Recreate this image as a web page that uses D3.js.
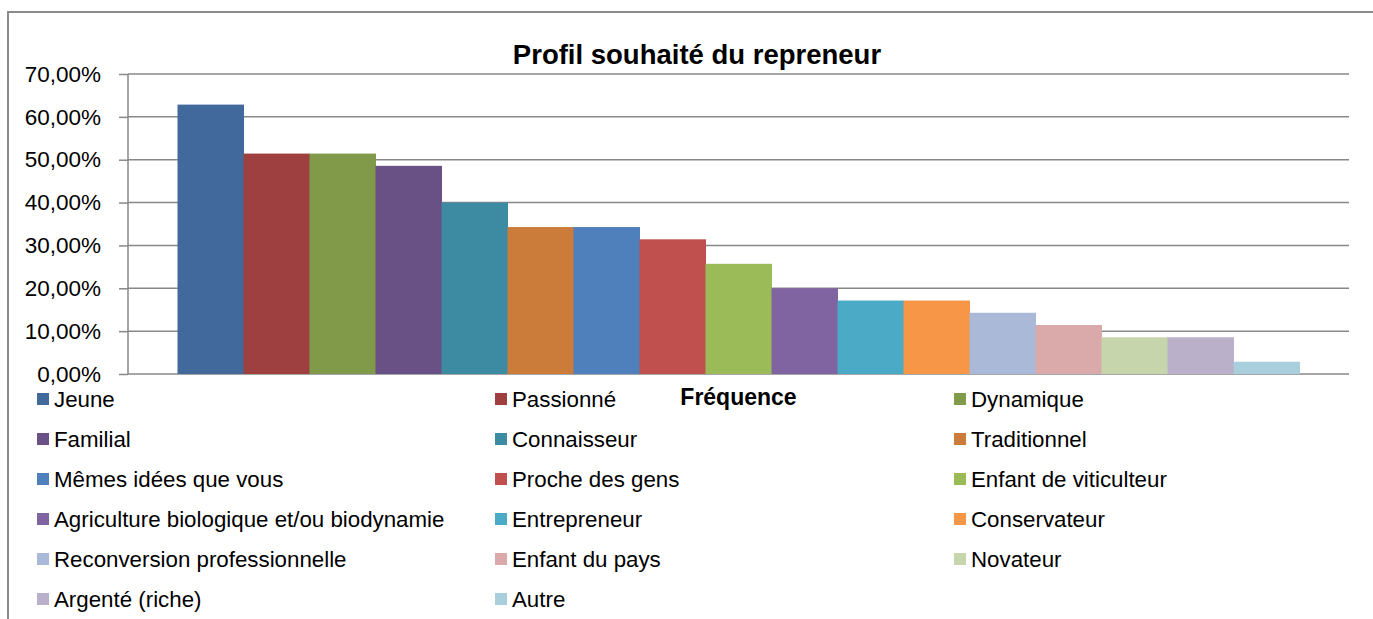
<!DOCTYPE html>
<html>
<head>
<meta charset="utf-8">
<script src="https://cdn.jsdelivr.net/npm/d3@7"></script>
<style>
  body { margin: 0; background: #fff; }
  svg text { font-family: "Liberation Sans", Arial, sans-serif; fill: #000; }
</style>
</head>
<body>
<div id="chart"></div>
<script>
// profile categories, in legend / bar order
const profils = [
    "Jeune", "Passionné", "Dynamique",
    "Familial", "Connaisseur", "Traditionnel",
    "Mêmes idées que vous", "Proche des gens", "Enfant de viticulteur",
    "Agriculture biologique et/ou biodynamie", "Entrepreneur", "Conservateur",
    "Reconversion professionnelle", "Enfant du pays", "Novateur",
    "Argenté (riche)", "Autre"
]

// share of answers for each profile
const frequences = [
    0.6286, 0.5143, 0.5143,
    0.4857, 0.4000, 0.3429,
    0.3429, 0.3143, 0.2571,
    0.2000, 0.1714, 0.1714,
    0.1429, 0.1143, 0.0857,
    0.0857, 0.0286
]

const couleurs = [
    "#41699b", "#9e403f", "#809a4a",
    "#695186", "#3d8ba2", "#cb7b3a",
    "#4f80bb", "#c0504e", "#9bbb59",
    "#8064a1", "#4babc6", "#f79647",
    "#aab9d7", "#d9aaa9", "#c7d5ad",
    "#bab0ca", "#a9cedc"
]

const yTicks = [0, 0.1, 0.2, 0.3, 0.4, 0.5, 0.6, 0.7]

const width = 1373, height = 619
const plot = {left: 128, right: 1349, top: 74, bottom: 374}

const svg = d3.select("#chart")
    .append("svg")
    .attr("width", width)
    .attr("height", height)

// outer frame (only top and left edges are visible)
svg.append("path")
    .attr("d", `M8,${height + 2} L8,12 L${width + 2},12`)
    .attr("fill", "none")
    .attr("stroke", "#8a8a8a")
    .attr("stroke-width", 2)

const x = d3.scaleBand()
    .domain(profils)
    .range([plot.left, plot.right])
    .paddingInner(0)
    .paddingOuter(0.75)

const y = d3.scaleLinear()
    .domain([0, 0.7])
    .range([plot.bottom, plot.top])

const fmt = v => d3.format(".2f")(v * 100).replace(".", ",") + "%"

// gridlines
svg.append("g")
    .selectAll("line")
    .data(yTicks)
    .enter()
    .append("line")
    .attr("x1", plot.left)
    .attr("x2", plot.right)
    .attr("y1", d => y(d))
    .attr("y2", d => y(d))
    .attr("stroke", "#888")
    .attr("stroke-width", 1.5)

// y axis
const yAxis = svg.append("g")
    .attr("transform", `translate(${plot.left},0)`)
    .call(d3.axisLeft(y).tickValues(yTicks).tickFormat(fmt).tickSize(9).tickPadding(18))

yAxis.select(".domain")
    .attr("stroke", "#888")
    .attr("stroke-width", 1.5)
    .attr("d", `M0,${plot.top}V${plot.bottom}`)
yAxis.selectAll(".tick line")
    .attr("stroke", "#888")
    .attr("stroke-width", 1.5)
yAxis.selectAll(".tick text")
    .attr("font-family", "Liberation Sans, Arial, sans-serif")
    .attr("font-size", 22.5)
    .attr("fill", "#000")

// bars
svg.append("g")
    .selectAll("rect")
    .data(profils)
    .enter()
    .append("rect")
    .attr("x", d => x(d))
    .attr("width", x.bandwidth() + 0.5)
    .attr("y", (d, i) => y(frequences[i]))
    .attr("height", (d, i) => y(0) - y(frequences[i]))
    .attr("fill", (d, i) => couleurs[i])

// title
svg.append("text")
    .attr("x", 697)
    .attr("y", 64)
    .attr("text-anchor", "middle")
    .attr("font-size", 27.5)
    .attr("font-weight", "bold")
    .text("Profil souhaité du repreneur")

// category axis title
svg.append("text")
    .attr("x", (plot.left + plot.right) / 2)
    .attr("y", 405)
    .attr("text-anchor", "middle")
    .attr("font-size", 23)
    .attr("font-weight", "bold")
    .text("Fréquence")

// legend, three columns
const colX = [37, 495, 954]
const legend = svg.append("g")
    .selectAll("g")
    .data(profils)
    .enter()
    .append("g")
    .attr("transform", (d, i) => `translate(${colX[i % 3]},${399 + Math.floor(i / 3) * 40})`)

legend.append("rect")
    .attr("x", 0)
    .attr("y", -6)
    .attr("width", 12)
    .attr("height", 12)
    .attr("fill", (d, i) => couleurs[i])

legend.append("text")
    .attr("x", 17)
    .attr("y", 7.5)
    .attr("font-size", 22.3)
    .text(d => d)
</script>
</body>
</html>
